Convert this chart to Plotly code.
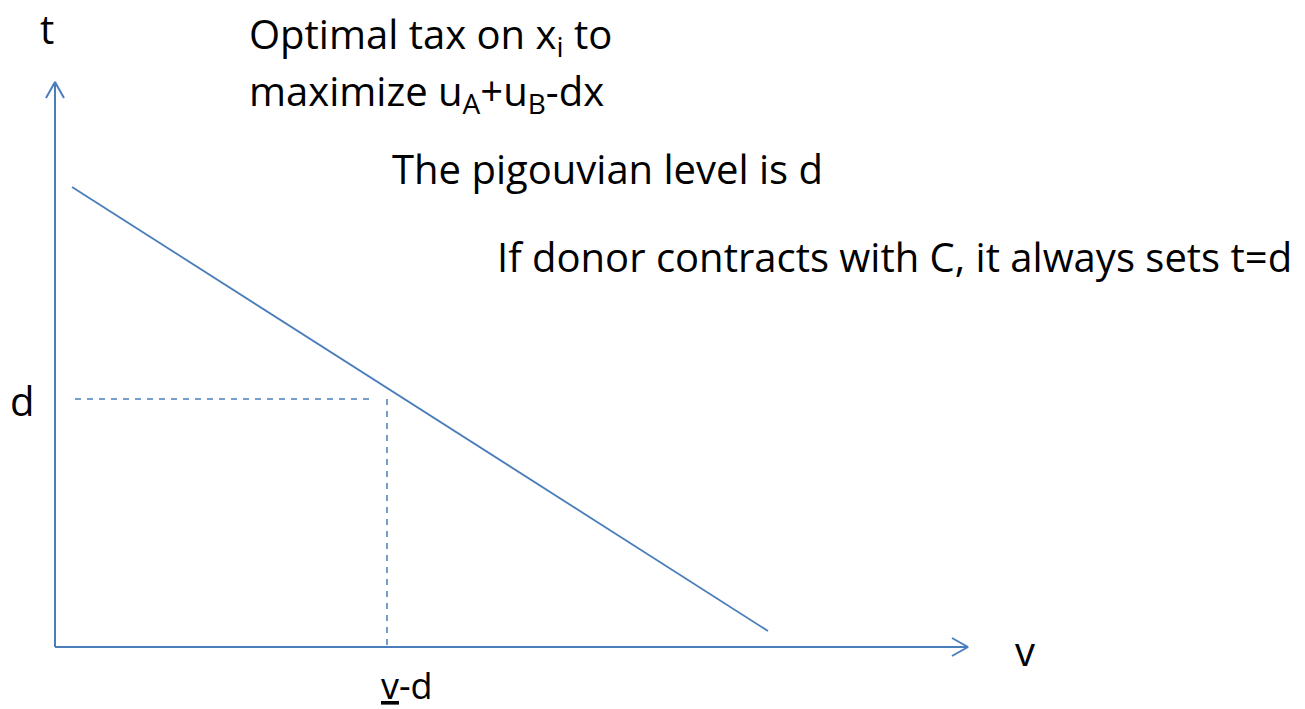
import plotly.graph_objects as go

# Diagram coordinates: v along the horizontal axis, t along the vertical axis
V_AXIS_END = 913
T_AXIS_END = 565

# Tax schedule t(v): straight line
line_v = [17, 713]
line_t = [460, 16]

# Pigouvian level d and the matching v-d
v_star = 332
t_d = 248

AXIS_COLOR = "#4a7ebb"
FONT = "Open Sans"
FS = 40

fig = go.Figure()

# Axes
fig.add_trace(go.Scatter(x=[0, 0], y=[0, T_AXIS_END], mode="lines",
                         line=dict(color=AXIS_COLOR, width=2)))
fig.add_trace(go.Scatter(x=[0, V_AXIS_END], y=[0, 0], mode="lines",
                         line=dict(color=AXIS_COLOR, width=2)))
# Open arrowheads
fig.add_trace(go.Scatter(x=[-9, 0, 9], y=[T_AXIS_END - 16, T_AXIS_END, T_AXIS_END - 16],
                         mode="lines", line=dict(color=AXIS_COLOR, width=2)))
fig.add_trace(go.Scatter(x=[V_AXIS_END - 16, V_AXIS_END, V_AXIS_END - 16], y=[9, 0, -9],
                         mode="lines", line=dict(color=AXIS_COLOR, width=2)))

# Tax schedule
fig.add_trace(go.Scatter(x=line_v, y=line_t, mode="lines",
                         line=dict(color=AXIS_COLOR, width=1.8)))

# Dashed guides to d and v-d
fig.add_trace(go.Scatter(x=[20, v_star - 12], y=[t_d, t_d], mode="lines",
                         line=dict(color=AXIS_COLOR, width=1.5, dash="6px,6px")))
fig.add_trace(go.Scatter(x=[v_star, v_star], y=[t_d, 0], mode="lines",
                         line=dict(color=AXIS_COLOR, width=1.5, dash="6px,6px")))

def label(x, y, text, xanchor="center", yanchor="middle", size=FS):
    fig.add_annotation(x=x, y=y, text=text, showarrow=False, xanchor=xanchor,
                       yanchor=yanchor, font=dict(family=FONT, size=size, color="black"))

label(-8, 619, "t")
label(192, 612, "Optimal tax on x<sub>i</sub> to", xanchor="left")
label(192, 555, "maximize u<sub>A</sub>+u<sub>B</sub>-dx", xanchor="left")
label(335, 479, "The pigouvian level is d", xanchor="left")
label(440, 391, "If donor contracts with C, it always sets t=d", xanchor="left")
label(-33, 247, "d")
label(970, -3, "v")
label(352, -38, "<u>v</u>-d", size=36)

fig.update_xaxes(range=[-55, 1250], visible=False)
fig.update_yaxes(range=[-62, 647], visible=False)
fig.update_layout(width=1305, height=709, margin=dict(l=0, r=0, t=0, b=0),
                  plot_bgcolor="white", paper_bgcolor="white", showlegend=False)

fig.write_html("out.html")
